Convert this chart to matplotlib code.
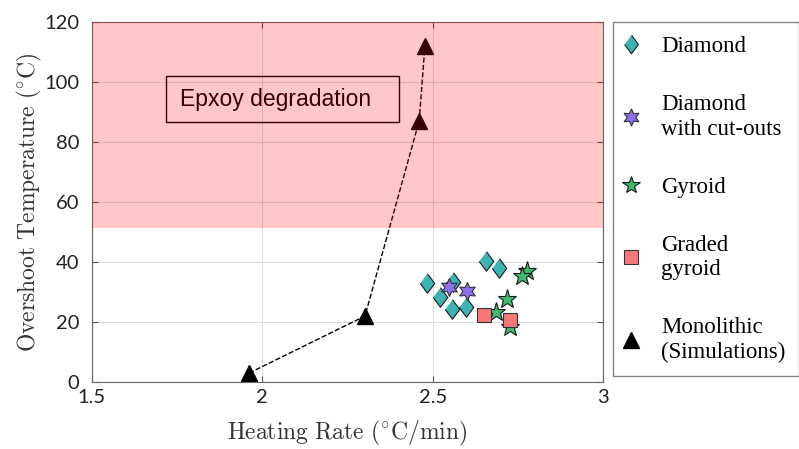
import numpy as np
import matplotlib.pyplot as plt
from matplotlib.patches import Rectangle

plt.rcParams['mathtext.fontset'] = 'cm'
plt.rcParams['font.family'] = 'serif'
plt.rcParams['font.serif'] = ['Liberation Serif', 'DejaVu Serif']

# data
diamond_x = [2.482, 2.52, 2.56, 2.557, 2.597, 2.656, 2.695]
diamond_y = [33, 28.5, 33.5, 24.5, 25, 40.5, 38]
cutout_x = [2.548, 2.60]
cutout_y = [31.8, 30.5]
gyroid_x = [2.776, 2.761, 2.719, 2.685, 2.727]
gyroid_y = [37, 35.3, 27.6, 23.4, 18.2]
graded_x = [2.649, 2.727]
graded_y = [22.4, 20.7]
mono_x = [1.961, 2.301, 2.46, 2.477]
mono_y = [3, 22, 87, 112]
degr_lo, degr_hi = 51.5, 120

fig = plt.figure(figsize=(7.99, 4.49), dpi=100)
ax = fig.add_axes([0.115, 0.149, 0.640, 0.802])

diam = [(0, 1), (0.75, 0), (0, -1), (-0.75, 0)]
ax.plot(diamond_x, diamond_y, ls='none', marker=diam, ms=14, mfc='#3cb4b4', mec='#1a1a1a',
        mew=0.8, label='Diamond', zorder=4)
ax.plot(cutout_x, cutout_y, ls='none', marker=(6, 1, 0), ms=13, mfc='#8f6ff0', mec='#333333',
        mew=0.8, label='Diamond\nwith cut-outs', zorder=4)
ax.plot(gyroid_x, gyroid_y, ls='none', marker='*', ms=14, mfc='#3dba6c', mec='#1a1a1a',
        mew=0.8, label='Gyroid', zorder=4)
ax.plot(graded_x, graded_y, ls='none', marker='s', ms=10, mfc='#f87878', mec='#333333',
        mew=0.8, label='Graded\ngyroid', zorder=4)
ax.plot(mono_x, mono_y, 'k--', lw=1, zorder=2)
ax.plot(mono_x, mono_y, ls='none', marker='^', ms=12, color='k', label='Monolithic\n(Simulations)', zorder=2)

# degradation band drawn on top so the markers inside it get tinted
ax.axhspan(degr_lo, degr_hi, color='red', alpha=0.22, lw=0, zorder=5)
ax.add_patch(Rectangle((1.717, 86.7), 0.684, 15.3, fc='none', ec='k', lw=1, zorder=1))
ax.text(1.758, 94.3, 'Epxoy degradation', fontsize=16.5, family='Liberation Sans', va='center', zorder=1)

ax.set_xlim(1.5, 3)
ax.set_ylim(0, 120)
ax.set_xticks([1.5, 2, 2.5, 3])
ax.set_xticklabels(['1.5', '2', '2.5', '3'])
ax.set_yticks(np.arange(0, 121, 20))
for lab in ax.get_xticklabels() + ax.get_yticklabels():
    lab.set_family('Lato')
    lab.set_fontsize(14.5)
    lab.set_color('#222222')
ax.tick_params(direction='in', top=True, right=True, length=4, color='#555555')
ax.tick_params(axis='x', pad=5)
ax.tick_params(axis='y', pad=9)
ax.grid(True, color='#dddddd', lw=0.8)
ax.set_axisbelow(True)
for s in ax.spines.values():
    s.set_color('#666666')

ax.set_xlabel(r'$\mathrm{Heating\ Rate\ (^{\circ}C/min)}$', fontsize=17, color='#333333', labelpad=9)
ax.set_ylabel(r'$\mathrm{Overshoot\ Temperature\ (^{\circ}C)}$', fontsize=17, color='#333333', labelpad=0)

leg = fig.legend(loc='upper left', bbox_to_anchor=(0.767, 0.950), prop={'size': 16.5},
                 labelspacing=1.62, handletextpad=1.1, borderpad=0.6, fancybox=False, edgecolor='#666666',
                 markerscale=0.95, handlelength=0.4, borderaxespad=0)
leg.get_frame().set_linewidth(1)
for t in leg.get_texts():
    t.set_fontfamily(['Liberation Serif', 'DejaVu Serif'])

fig.savefig('out.png', dpi=100)
